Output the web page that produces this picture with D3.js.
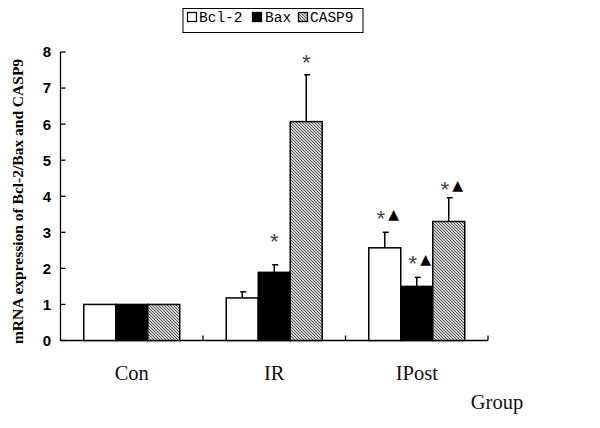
<!DOCTYPE html>
<html><head><meta charset="utf-8">
<script src="https://cdn.jsdelivr.net/npm/d3@7"></script>
<style>body{margin:0;background:#fff}svg{display:block}</style>
</head><body><svg id="c" width="600" height="428"></svg>
<script>
const groups = ["Con", "IR", "IPost"];
const series = ["Bcl-2", "Bax", "CASP9"];
const bcl2 = [1, 1.18, 2.57];
const bax = [1, 1.89, 1.5];
const casp9 = [1, 6.07, 3.3];
const bcl2Err = [0, 0.17, 0.43];
const baxErr = [0, 0.21, 0.25];
const casp9Err = [0, 1.3, 0.66];
const yTicks = [0, 1, 2, 3, 4, 5, 6, 7, 8];
// annotations: [group, series, has triangle, level (data units of text centre)]
const marks = [
  ["IR", "Bax", false, 2.88],
  ["IR", "CASP9", false, 7.84],
  ["IPost", "Bcl-2", true, 3.52],
  ["IPost", "Bax", true, 2.27],
  ["IPost", "CASP9", true, 4.32]
];

const vals = {"Bcl-2": bcl2, "Bax": bax, "CASP9": casp9};
const errs = {"Bcl-2": bcl2Err, "Bax": baxErr, "CASP9": casp9Err};

const svg = d3.select("#c");
const defs = svg.append("defs");
const pat = defs.append("pattern").attr("id", "hatch").attr("patternUnits", "userSpaceOnUse")
  .attr("width", 3).attr("height", 3);
pat.append("rect").attr("width", 3).attr("height", 3).attr("fill", "#fff");
pat.append("path").attr("d", "M0,0 L3,3 M-1,2 L1,4 M2,-1 L4,1").attr("stroke", "#555").attr("stroke-width", 1.1);

const x0 = 60.5, x1 = 488, yB = 340.5, yT = 52;
const x = d3.scaleBand().domain(groups).range([x0, x1]).paddingInner(0).paddingOuter(0);
const xs = d3.scaleBand().domain(series).range([0, 96]);
const groupOff = (x.bandwidth() - 96) / 2;
const y = d3.scaleLinear().domain([0, 8]).range([yB, yT]);

const fills = {"Bcl-2": "#fff", "Bax": "#000", "CASP9": "url(#hatch)"};

// y axis
const g = svg.append("g");
g.append("line").attr("x1", x0).attr("x2", x0).attr("y1", y(8)).attr("y2", yB).attr("stroke", "#000").attr("stroke-width", 1.3);
g.selectAll(".yt").data(yTicks).enter().append("line")
  .attr("x1", x0).attr("x2", x0 + 5).attr("y1", d => y(d)).attr("y2", d => y(d)).attr("stroke", "#000").attr("stroke-width", 1.3);
g.selectAll(".yl").data(yTicks).enter().append("text")
  .attr("x", 47).attr("y", d => y(d)).attr("dy", "0.36em").attr("text-anchor", "middle")
  .attr("font-family", "Liberation Sans, Arial").attr("font-weight", "bold").attr("font-size", 15)
  .text(d => d);

// x axis
g.append("line").attr("x1", x0).attr("x2", x1).attr("y1", yB).attr("y2", yB).attr("stroke", "#000").attr("stroke-width", 1.3);
g.selectAll(".xt").data(groups.slice(1).concat(["end"])).enter().append("line")
  .attr("x1", (d, i) => i < 2 ? x(d) : x1).attr("x2", (d, i) => i < 2 ? x(d) : x1)
  .attr("y1", yB).attr("y2", yB - 5).attr("stroke", "#000").attr("stroke-width", 1.3);
g.selectAll(".xl").data(groups).enter().append("text")
  .attr("x", d => x(d) + x.bandwidth() / 2).attr("y", 380).attr("text-anchor", "middle")
  .attr("font-family", "Liberation Serif, Times New Roman").attr("font-size", 20.5).attr("fill", "#111")
  .text(d => d);
svg.append("text").attr("x", 497).attr("y", 409).attr("text-anchor", "middle")
  .attr("font-family", "Liberation Serif, Times New Roman").attr("font-size", 20.5).attr("fill", "#111").text("Group");

// y title
svg.append("text").attr("transform", `translate(23,${(58 + 345) / 2}) rotate(-90)`)
  .attr("text-anchor", "middle").attr("font-family", "Liberation Serif, Times New Roman")
  .attr("font-weight", "bold").attr("font-size", 15.5)
  .text("mRNA expression of Bcl-2/Bax and CASP9");

// bars
const data = [];
groups.forEach((gr, gi) => series.forEach(s => data.push({gr, s, v: vals[s][gi], e: errs[s][gi]})));
const bx = d => x(d.gr) + groupOff + xs(d.s);
svg.append("g").selectAll("rect").data(data).enter().append("rect")
  .attr("x", bx).attr("y", d => y(d.v)).attr("width", xs.bandwidth()).attr("height", d => y(0) - y(d.v))
  .attr("fill", d => fills[d.s]).attr("stroke", "#000").attr("stroke-width", 1.5);

// error bars
const eb = svg.append("g").attr("stroke", "#000").attr("stroke-width", 1.5);
data.filter(d => d.e > 0).forEach(d => {
  const cx = bx(d) + xs.bandwidth() / 2;
  eb.append("line").attr("x1", cx).attr("x2", cx).attr("y1", y(d.v)).attr("y2", y(d.v + d.e));
  eb.append("line").attr("x1", cx - 2).attr("x2", cx + 4).attr("y1", y(d.v + d.e)).attr("y2", y(d.v + d.e));
});

// annotations
const ag = svg.append("g");
marks.forEach(m => {
  const cx = x(m[0]) + groupOff + xs(m[1]) + xs.bandwidth() / 2;
  const ax = m[2] ? cx - 4 : cx;
  ag.append("text").attr("x", ax).attr("y", y(m[3])).attr("dy", "0.62em").attr("text-anchor", "middle")
    .attr("font-family", "Liberation Mono, DejaVu Sans Mono").attr("font-size", 22).attr("fill", "#444")
    .text("*");
  if (m[2]) ag.append("text").attr("x", cx + 9).attr("y", y(m[3])).attr("dy", "0.38em").attr("text-anchor", "middle")
    .attr("font-family", "DejaVu Sans").attr("font-size", 14).attr("fill", "#000").text("▲");
});

// legend
const lg = svg.append("g");
lg.append("rect").attr("x", 183).attr("y", 8.5).attr("width", 180).attr("height", 24)
  .attr("fill", "#fff").attr("stroke", "#000").attr("stroke-width", 1);
const legX = [187, 252, 298];
const legTX = [199, 265, 310];
series.forEach((s, i) => {
  lg.append("rect").attr("x", legX[i] + 0.5).attr("y", 12.5).attr("width", 9).attr("height", 9)
    .attr("fill", fills[s]).attr("stroke", "#000").attr("stroke-width", 1.3);
  lg.append("text").attr("x", legTX[i]).attr("y", 22).attr("font-family", "Liberation Mono, DejaVu Sans Mono")
    .attr("font-size", 14.5).text(s);
});
</script></body></html>
